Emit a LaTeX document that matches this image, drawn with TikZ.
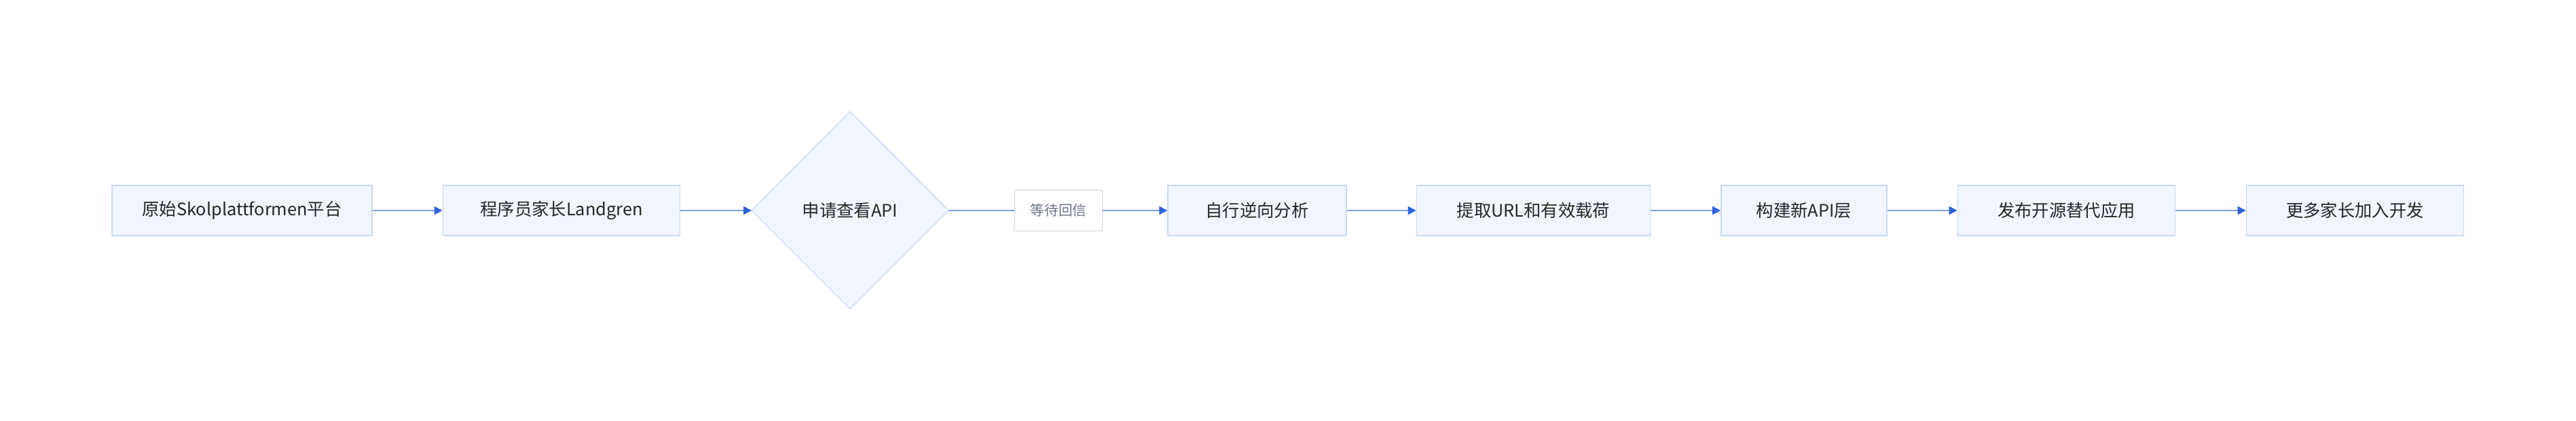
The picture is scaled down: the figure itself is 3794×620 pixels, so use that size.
\documentclass[tikz,border=0pt]{standalone}
\usepackage{fontspec}
\setmainfont{Noto Sans CJK SC}
\usetikzlibrary{shapes.geometric,arrows.meta}
\definecolor{nfill}{HTML}{F0F5FF}
\definecolor{nbord}{HTML}{C9D9F2}
\definecolor{eline}{HTML}{7FA2EA}
\definecolor{etip}{HTML}{2D62DC}
\definecolor{lbord}{HTML}{DCDCDC}
\definecolor{ltext}{HTML}{6E7687}
\begin{document}
\begin{tikzpicture}[x=0.75pt,y=-0.75pt,
  box/.style={draw=nbord,fill=nfill,line width=1.2pt,minimum height=55.5pt,inner sep=0pt,font=\fontsize{19}{21}\selectfont,text=black!85},
  lab/.style={draw=lbord,fill=white,rounded corners=2pt,line width=1pt,minimum width=97pt,minimum height=45pt,inner sep=0pt,font=\fontsize{15.5}{17}\selectfont,text=ltext},
  edge/.style={draw=eline,line width=2pt},
  arr/.style={edge,-{Triangle[length=9pt,width=9pt,color=etip]}}]
\useasboundingbox[fill=white] (0,0) rectangle (3794,620);
\node[box,minimum width=287pt] (a) at (356.5,310) {原始Skolplattformen平台};
\node[box,minimum width=262pt] (b) at (827,310) {程序员家长Landgren};
\fill[nfill] (1107,310) -- (1252,164) -- (1397,310) -- (1252,455) -- cycle;
\draw[nbord,line width=1pt] (1107,310) -- (1252,164) -- (1397,310) -- (1252,455) -- cycle;
\node[font=\fontsize{19}{21}\selectfont,text=black!85] (c) at (1252,310) {申请查看API};
\coordinate (cL) at (1107,310);
\coordinate (cR) at (1397,310);
\node[lab] (l) at (1559,310) {等待回信};
\node[box,minimum width=197pt] (d) at (1851.5,310) {自行逆向分析};
\node[box,minimum width=258pt] (e) at (2258.5,310) {提取URL和有效载荷};
\node[box,minimum width=183pt] (f) at (2657,310) {构建新API层};
\node[box,minimum width=240pt] (g) at (3043.5,310) {发布开源替代应用};
\node[box,minimum width=240pt] (h) at (3468.5,310) {更多家长加入开发};
\draw[arr] (a.east) -- (b.west);
\draw[arr] (b.east) -- (cL);
\draw[edge] (cR) -- (l.west);
\draw[arr] (l.east) -- (d.west);
\draw[arr] (d.east) -- (e.west);
\draw[arr] (e.east) -- (f.west);
\draw[arr] (f.east) -- (g.west);
\draw[arr] (g.east) -- (h.west);
\end{tikzpicture}
\end{document}
